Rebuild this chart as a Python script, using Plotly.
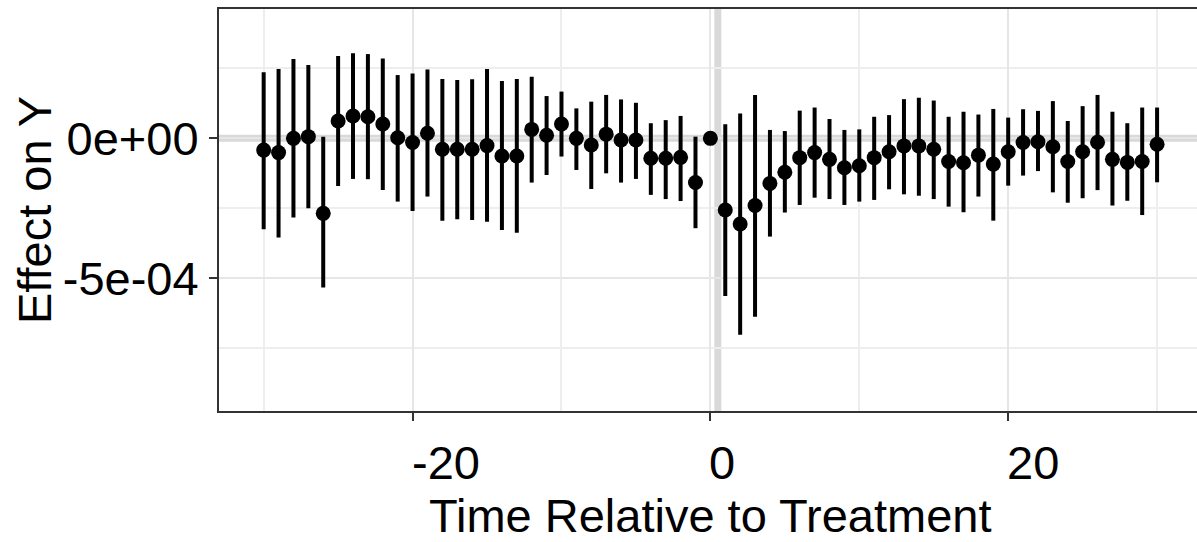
import plotly.graph_objects as go

# Event-study estimates (values in units of 1e-4)
time = list(range(-30, 31))
estimate = [-0.42, -0.51, 0.00, 0.06, -2.68, 0.62, 0.80, 0.77, 0.51, 0.02,
            -0.15, 0.18, -0.39, -0.39, -0.39, -0.26, -0.63, -0.63, 0.32, 0.11,
            0.51, 0.00, -0.24, 0.15, -0.06, -0.06, -0.71, -0.71, -0.68, -1.58,
            0.00,
            -2.56, -3.06, -2.40, -1.61, -1.21, -0.69, -0.51, -0.75, -1.05, -0.98,
            -0.69, -0.48, -0.27, -0.27, -0.39, -0.83, -0.87, -0.60, -0.92, -0.48,
            -0.15, -0.12, -0.30, -0.83, -0.48, -0.14, -0.75, -0.86, -0.83, -0.21]
ci_high = [2.36, 2.48, 2.83, 2.62, 0.06, 2.94, 3.04, 3.01, 2.85, 2.26,
           2.32, 2.46, 2.12, 2.08, 2.11, 2.48, 2.05, 2.12, 2.20, 1.51,
           1.67, 1.07, 1.31, 1.55, 1.39, 1.27, 0.54, 0.65, 0.80, 0.06,
           0.00,
           0.50, 0.89, 1.55, 0.30, 0.26, 0.99, 1.10, 0.69, 0.30, 0.32,
           0.77, 0.83, 1.40, 1.45, 1.35, 0.77, 0.95, 0.85, 1.05, 0.74,
           1.04, 0.98, 1.33, 0.62, 1.15, 1.55, 0.95, 0.54, 1.10, 1.10]
ci_low = [-3.25, -3.54, -2.83, -2.50, -5.33, -1.70, -1.45, -1.46, -1.85, -2.26,
          -2.60, -2.08, -2.94, -2.89, -2.92, -2.98, -3.27, -3.37, -1.58, -1.31,
          -0.65, -1.13, -1.81, -1.25, -1.58, -1.45, -2.02, -2.17, -2.24, -3.21,
          0.00,
          -5.63, -7.02, -6.37, -3.51, -2.65, -2.38, -2.12, -2.17, -2.38, -2.26,
          -2.20, -1.82, -2.00, -2.05, -2.17, -2.44, -2.64, -2.08, -2.94, -1.69,
          -1.33, -1.17, -1.93, -2.30, -2.14, -1.85, -2.40, -2.23, -2.74, -1.57]
SCALE = 1e-4

x_tickvals = [-20, 0, 20]
x_ticktext = ["-20", "0", "20"]
y_tickvals = [0, -5e-4]
y_ticktext = ["0e+00", "-5e-04"]

est = [v * SCALE for v in estimate]
err_plus = [(h - e) * SCALE for h, e in zip(ci_high, estimate)]
err_minus = [(e - l) * SCALE for l, e in zip(ci_low, estimate)]

FONT = "Liberation Sans, Arial, sans-serif"
X_RANGE = [-33, 32.68]
Y_RANGE = [-9.74e-4, 4.62e-4]
PLOT_L, PLOT_T, PLOT_B, PLOT_W, PLOT_H = 219, 9, 411, 978, 402

fig = go.Figure()

# reference lines
fig.add_shape(type="line", xref="x", yref="paper", x0=0.5, x1=0.5, y0=0, y1=1,
              line=dict(color="#d9d9d9", width=7), layer="below")
fig.add_shape(type="line", xref="paper", yref="y", x0=0, x1=1, y0=0, y1=0,
              line=dict(color="#d9d9d9", width=7), layer="below")

fig.add_trace(go.Scatter(
    x=time, y=est, mode="markers",
    marker=dict(color="black", size=15),
    error_y=dict(type="data", symmetric=False, array=err_plus, arrayminus=err_minus,
                 color="black", thickness=4, width=0),
    showlegend=False, cliponaxis=False,
))

annotations = [
    dict(text="Time Relative to Treatment", xref="paper", yref="paper",
         x=(710 - PLOT_L) / PLOT_W, y=(PLOT_B - 515) / PLOT_H, xanchor="center", yanchor="middle",
         showarrow=False, font=dict(size=47, color="black")),
    dict(text="Effect on Y", xref="paper", yref="paper",
         x=(34 - PLOT_L) / PLOT_W, y=0.5, xanchor="center", yanchor="middle", textangle=-90,
         showarrow=False, font=dict(size=47, color="black")),
]
# x tick labels, left-justified at their ticks as in the reference
for tv, tt in zip(x_tickvals, x_ticktext):
    annotations.append(dict(text=tt, xref="x", yref="paper", x=tv, y=(PLOT_B - 462) / PLOT_H,
                            xanchor="left", yanchor="middle", xshift=-3, showarrow=False,
                            font=dict(size=47, color="black")))

fig.update_layout(
    width=1197, height=542,
    margin=dict(l=PLOT_L, r=0, t=PLOT_T, b=542 - PLOT_B),
    paper_bgcolor="white", plot_bgcolor="white",
    font=dict(family=FONT, size=47, color="black"),
    xaxis=dict(
        range=X_RANGE, tickvals=x_tickvals, ticktext=x_ticktext, showticklabels=False,
        showgrid=True, gridcolor="#e6e6e6", gridwidth=2,
        minor=dict(tickvals=[-30, -10, 10, 30], showgrid=True, gridcolor="#eeeeee", gridwidth=1.5, ticks=""),
        showline=True, linecolor="#333333", linewidth=2, mirror=True,
        ticks="outside", ticklen=8, tickwidth=2, tickcolor="#333333",
        zeroline=False,
    ),
    yaxis=dict(
        range=Y_RANGE, tickvals=y_tickvals, ticktext=y_ticktext,
        showgrid=True, gridcolor="#e6e6e6", gridwidth=2,
        minor=dict(tickvals=[2.5e-4, -2.5e-4, -7.5e-4], showgrid=True, gridcolor="#eeeeee", gridwidth=1.5, ticks=""),
        showline=True, linecolor="#333333", linewidth=2, mirror=False,
        ticks="outside", ticklen=8, tickwidth=2, tickcolor="#333333",
        tickfont=dict(size=47, color="black"), ticklabelstandoff=1,
        zeroline=False,
    ),
    annotations=annotations,
)

fig.write_html("out.html")
